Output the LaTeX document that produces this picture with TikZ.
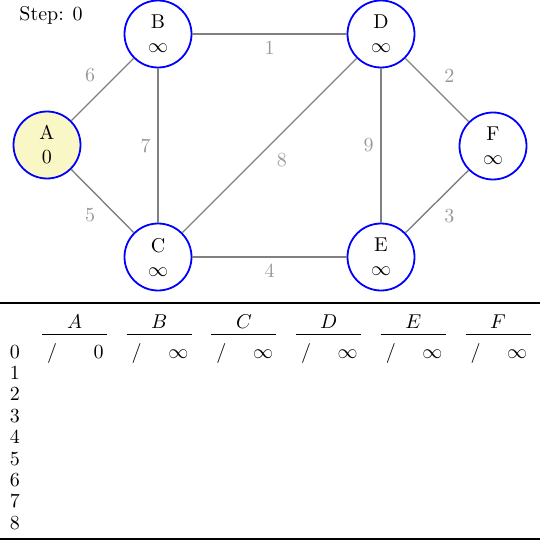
\documentclass[tikz,border=0pt]{standalone}
\usepackage{tikz}
\usetikzlibrary{positioning}
\definecolor{vertexblue}{HTML}{0000FF}
\definecolor{startfill}{HTML}{FAF7C6}
\definecolor{edgegray}{HTML}{808080}
\definecolor{weightgray}{HTML}{999999}

\begin{document}
\begin{tikzpicture}[
    x=0.5pt, y=-0.5pt,
    vertex/.style={circle, draw=vertexblue, fill=white, line width=0.9pt,
                   minimum size=33.5pt, inner sep=0pt, align=center},
    edge/.style={draw=edgegray, line width=0.7pt},
    weight/.style={text=weightgray, auto},
    cell/.style={anchor=base, inner sep=0pt},
    heavyrule/.style={line width=1pt},
    lightrule/.style={line width=0.5pt}
]
    \useasboundingbox (0,0) rectangle (540,540);

    \node[anchor=base west, inner sep=0pt] (step) at (19,21) {Step: 0};

    % graph
    \node[vertex, fill=startfill] (A) at (47,145) {A\\0};
    \node[vertex] (B) at (158,34) {B\\$\infty$};
    \node[vertex] (C) at (158,257) {C\\$\infty$};
    \node[vertex] (D) at (381,34) {D\\$\infty$};
    \node[vertex] (E) at (381,257) {E\\$\infty$};
    \node[vertex] (F) at (493,146) {F\\$\infty$};

    \draw[edge] (A) -- node[weight] {6} (B);
    \draw[edge] (A) -- node[weight, swap] {5} (C);
    \draw[edge] (B) -- node[weight, swap] {7} (C);
    \draw[edge] (B) -- node[weight, swap] {1} (D);
    \draw[edge] (C) -- node[weight, swap] {8} (D);
    \draw[edge] (D) -- node[weight, swap] {9} (E);
    \draw[edge] (D) -- node[weight] {2} (F);
    \draw[edge] (E) -- node[weight, swap] {3} (F);
    \draw[edge] (C) -- node[weight, swap] {4} (E);

    % table
    \draw[heavyrule] (0,303) -- (540,303);
    \foreach \v [count=\j from 0] in {A,B,C,D,E,F} {
        \node[cell] (head\v) at (74.5+84.7*\j, 328) {$\v$};
        \draw[lightrule] (42+84.7*\j, 334) -- (107+84.7*\j, 334);
        \node[cell] (pred\v) at (52+84.7*\j, 358) {/};
    }
    \node[cell, anchor=base east] (distA) at (104, 358) {0};
    \foreach \v [count=\j from 1] in {B,C,D,E,F}
        \node[cell, anchor=base east] (dist\v) at (104+84.7*\j, 358) {$\infty$};
    \foreach \r in {0,...,8}
        \node[cell] (row\r) at (15, 358+21.4*\r) {\r};
    \draw[heavyrule] (0,538.5) -- (540,538.5);
\end{tikzpicture}
\end{document}
